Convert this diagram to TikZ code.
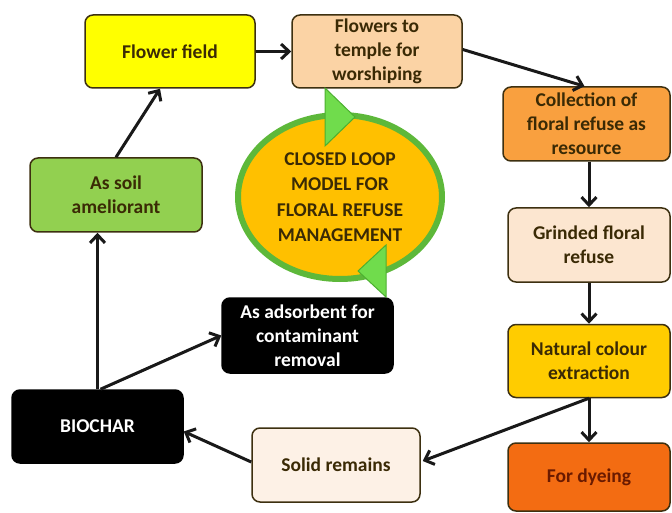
\documentclass[tikz,border=0pt]{standalone}
\usepackage{fontspec}
\setmainfont{Carlito}
\usetikzlibrary{arrows.meta,shapes.geometric}
\definecolor{boxline}{HTML}{3D3010}
\definecolor{txt}{HTML}{3A2A05}
\definecolor{cfield}{HTML}{FFFF00}
\definecolor{ctemple}{HTML}{FBD3A5}
\definecolor{ccoll}{HTML}{F9A03F}
\definecolor{cgrind}{HTML}{FCE6D0}
\definecolor{cnat}{HTML}{FFCC00}
\definecolor{cdye}{HTML}{F36C12}
\definecolor{csolid}{HTML}{FDF1E6}
\definecolor{csoil}{HTML}{92D050}
\definecolor{cell}{HTML}{FFC000}
\definecolor{cellline}{HTML}{5DB83A}
\definecolor{ctri}{HTML}{70DC4C}
\definecolor{ctriline}{HTML}{4CAF30}
\definecolor{cdyetxt}{HTML}{6A1A00}
\begin{document}
\begin{tikzpicture}[x=1pt,y=-1pt,
  box/.style={draw=boxline, line width=1.5pt, rounded corners=8pt, align=center,
    font=\bfseries\fontsize{19.5}{24}\selectfont, text=txt, inner sep=0pt},
  darkbox/.style={box, fill=black, draw=black, text=white},
  arr/.style={-{Straight Barb[length=8pt,width=15pt,line width=3pt]}, line width=3pt, draw=black!90}]
\useasboundingbox (0,0) rectangle (672,513);
\node[box, fill=cfield, minimum width=170pt, minimum height=73pt] (field) at (170,51.5) {Flower field};
\node[box, fill=ctemple, minimum width=170pt, minimum height=73pt] (temple) at (377,51.5) {Flowers to\\temple for\\worshiping};
\node[box, fill=ccoll, minimum width=167pt, minimum height=74pt] (coll) at (586.5,124) {Collection of\\floral refuse as\\resource};
\node[box, fill=cgrind, minimum width=162pt, minimum height=74pt] (grind) at (589,245) {Grinded floral\\refuse};
\node[box, fill=cnat, minimum width=162pt, minimum height=73pt] (nat) at (589,361) {Natural colour\\extraction};
\node[box, fill=cdye, text=cdyetxt, minimum width=162pt, minimum height=68pt] (dye) at (589,477) {For dyeing};
\node[box, fill=csolid, minimum width=168pt, minimum height=74pt] (solid) at (336,465) {Solid remains};
\node[darkbox, minimum width=171pt, minimum height=73pt] (biochar) at (97.5,426.5) {BIOCHAR};
\node[darkbox, minimum width=171pt, minimum height=75pt] (adsorb) at (307.5,335.5) {As adsorbent for\\contaminant\\removal};
\node[box, fill=csoil, minimum width=172pt, minimum height=74pt] (soil) at (116,195) {As soil\\ameliorant};
\node[ellipse, draw=cellline, line width=6pt, fill=cell, minimum width=204pt, minimum height=164pt,
  align=center, font=\bfseries\fontsize{19.5}{25.5}\selectfont, text=txt, inner sep=0pt] (loop) at (340,197)
  {CLOSED LOOP\\MODEL FOR\\FLORAL REFUSE\\MANAGEMENT};
\fill[ctri, draw=ctriline, line width=1pt] (325,88) -- (355,117) -- (325,146) -- cycle;
\fill[ctri, draw=ctriline, line width=1pt] (386,245) -- (358,271) -- (386,297) -- cycle;
\draw[arr] (soil.north) -- ([xshift=-10pt]field.south);
\draw[arr] (field.east) -- (temple.west);
\draw[arr] ([yshift=2pt]temple.east) -- ([xshift=-2pt]coll.north);
\draw[arr] (grind.north |- coll.south) -- (grind.north);
\draw[arr] (grind.south) -- (nat.north);
\draw[arr] (nat.south) -- (dye.north);
\draw[arr] (nat.south) -- ([yshift=4pt,xshift=2pt]solid.east);
\draw[arr] ([yshift=3pt]solid.west) -- ([yshift=-5pt]biochar.east);
\draw[arr] (biochar.north) -- (biochar.north |- soil.south);
\draw[arr] ([xshift=3pt]biochar.north) -- (adsorb.west);
\end{tikzpicture}
\end{document}
